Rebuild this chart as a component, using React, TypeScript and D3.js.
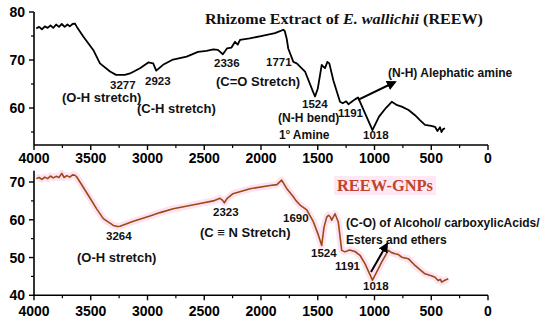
import React from "react";
import * as d3 from "d3";

// Top spectrum: Rhizome Extract of E. wallichii (REEW) — [wavenumber, %T]
const reewWave = [3980, 3955, 3930, 3905, 3880, 3855, 3830, 3805, 3780, 3755, 3730, 3705, 3685, 3660, 3640, 3625, 3566, 3478, 3419, 3330, 3277, 3200, 3154, 3066, 2993, 2950, 2923, 2863, 2775, 2655, 2555, 2480, 2420, 2380, 2336, 2300, 2260, 2229, 2205, 2185, 2100, 2000, 1877, 1833, 1804, 1790, 1774, 1760, 1715, 1685, 1612, 1542, 1524, 1500, 1465, 1450, 1436, 1415, 1398, 1363, 1304, 1280, 1250, 1230, 1201, 1172, 1145, 1018, 960, 900, 848, 800, 760, 700, 643, 600, 555, 500, 467, 445, 423, 410, 395, 379];
const reewT = [76.6, 76.9, 76.4, 77.0, 76.7, 77.2, 76.7, 77.4, 76.9, 77.5, 76.9, 77.4, 77.0, 77.5, 77.6, 77.0, 74.9, 72.1, 69.3, 67.6, 66.9, 66.9, 67.2, 68.3, 69.5, 69.3, 67.8, 69.0, 70.1, 70.7, 71.7, 71.9, 72.2, 72.1, 71.2, 72.4, 72.6, 73.8, 73.2, 74.2, 74.5, 75.0, 75.6, 76.0, 76.3, 76.0, 74.5, 72.4, 69.6, 69.3, 67.6, 63.4, 62.4, 64.0, 69.0, 68.6, 68.3, 69.6, 69.3, 65.8, 61.3, 61.0, 61.4, 60.8, 61.3, 61.8, 62.2, 55.4, 58.2, 60.0, 61.3, 60.6, 60.3, 59.6, 58.5, 57.5, 56.5, 56.3, 56.1, 55.2, 56.0, 55.0, 55.6, 55.8];

// Bottom spectrum: REEW-GNPs — [wavenumber, %T]
const gnpWave = [3980, 3955, 3930, 3905, 3880, 3855, 3830, 3805, 3780, 3755, 3735, 3710, 3685, 3660, 3640, 3625, 3595, 3522, 3448, 3389, 3301, 3264, 3242, 3125, 2978, 2890, 2773, 2537, 2420, 2361, 2340, 2323, 2300, 2247, 2097, 1921, 1860, 1818, 1774, 1715, 1690, 1656, 1597, 1539, 1495, 1465, 1445, 1421, 1405, 1390, 1377, 1348, 1319, 1289, 1260, 1220, 1172, 1128, 1084, 1018, 980, 937, 878, 850, 819, 790, 760, 702, 643, 600, 555, 500, 467, 440, 420, 408, 380, 350];
const gnpT = [70.9, 71.2, 70.7, 71.3, 70.9, 71.6, 71.1, 71.5, 71.2, 72.3, 71.2, 71.7, 71.3, 71.9, 71.8, 71.4, 70.0, 66.5, 62.9, 60.3, 58.5, 58.2, 58.3, 59.6, 61.0, 61.9, 62.9, 64.3, 65.0, 65.7, 65.2, 64.5, 65.6, 66.9, 68.2, 69.1, 69.3, 70.5, 68.3, 66.1, 65.0, 63.9, 62.6, 59.5, 56.0, 53.2, 58.0, 60.7, 61.2, 60.8, 59.9, 61.6, 59.4, 51.9, 51.5, 52.0, 51.6, 50.6, 48.4, 44.0, 46.2, 48.8, 51.9, 51.3, 51.0, 50.8, 50.1, 49.7, 47.9, 46.8, 45.7, 45.2, 44.8, 43.9, 44.2, 43.5, 44.0, 44.4];

const xMajor = [4000, 3500, 3000, 2500, 2000, 1500, 1000, 500, 0];
const xMinor = [3750, 3250, 2750, 2250, 1750, 1250, 750, 250];
const topMajor = [60, 70, 80];
const topMinor = [55, 65, 75];
const botMajor = [40, 50, 60, 70];
const botMinor = [45, 55, 65];

const topTitle = ["Rhizome Extract of ", "E. wallichii", " (REEW)"];
const botTitle = "REEW-GNPs";

const x = d3.scaleLinear().domain([4000, 0]).range([34, 488]);
const yTop = d3.scaleLinear().domain([52.3, 80]).range([145, 12]);
const yBot = d3.scaleLinear().domain([40, 73]).range([295.3, 170.7]);

const sans = "'Liberation Sans', Arial, sans-serif";
const serif = "'Liberation Serif', 'Times New Roman', serif";

function XAxis({ y, labelY }: { y: number; labelY: number }) {
  return (
    <g>
      <line x1={x(4000)} x2={x(0)} y1={y} y2={y} stroke="#000" strokeWidth={1.6} />
      {xMajor.map((v) => (
        <g key={"M" + v}>
          <line x1={x(v)} x2={x(v)} y1={y} y2={y + 5} stroke="#000" strokeWidth={1.4} />
          <text x={x(v)} y={labelY} textAnchor="middle" fontFamily={sans} fontWeight="bold" fontSize={14}>
            {v}
          </text>
        </g>
      ))}
      {xMinor.map((v) => (
        <line key={"m" + v} x1={x(v)} x2={x(v)} y1={y} y2={y + 3} stroke="#000" strokeWidth={1.2} />
      ))}
    </g>
  );
}

function YAxis({ scale, major, minor }: { scale: d3.ScaleLinear<number, number>; major: number[]; minor: number[] }) {
  const [d0, d1] = scale.domain();
  return (
    <g>
      <line x1={34} x2={34} y1={scale(d0)} y2={scale(d1)} stroke="#000" strokeWidth={1.6} />
      {major.map((v) => (
        <g key={"M" + v}>
          <line x1={29} x2={34} y1={scale(v)} y2={scale(v)} stroke="#000" strokeWidth={1.4} />
          <text x={25} y={scale(v) + 5} textAnchor="end" fontFamily={sans} fontWeight="bold" fontSize={14}>
            {v}
          </text>
        </g>
      ))}
      {minor.map((v) => (
        <line key={"m" + v} x1={31} x2={34} y1={scale(v)} y2={scale(v)} stroke="#000" strokeWidth={1.2} />
      ))}
    </g>
  );
}

function Label({ x: lx, y: ly, text, size = 12, anchor = "start" }: { x: number; y: number; text: string; size?: number; anchor?: string }) {
  return (
    <text x={lx} y={ly} fontFamily={sans} fontWeight="bold" fontSize={size} textAnchor={anchor as any} fill="#111">
      {text}
    </text>
  );
}

export default function App() {
  const topLine = d3
    .line<number>()
    .x((_, i) => x(reewWave[i]))
    .y((d) => yTop(d));
  const botLine = d3
    .line<number>()
    .x((_, i) => x(gnpWave[i]))
    .y((d) => yBot(d));
  return (
    <svg width={550} height={324} style={{ position: "absolute", left: 0, top: 0, background: "#fff" }}>
      <defs>
        <marker id="arr" viewBox="0 0 10 10" refX="8" refY="5" markerWidth="5" markerHeight="5" orient="auto">
          <path d="M0,0 L10,5 L0,10 z" fill="#000" />
        </marker>
      </defs>
      <rect width={550} height={324} fill="#fff" />

      {/* Top panel */}
      <YAxis scale={yTop} major={topMajor} minor={topMinor} />
      <XAxis y={145} labelY={163} />
      <path d={topLine(reewT) || ""} fill="none" stroke="#000" strokeWidth={1.8} strokeLinejoin="round" />
      <text x={205} y={24} fontFamily={serif} fontWeight="bold" fontSize={15} fill="#111" textLength={278} lengthAdjust="spacingAndGlyphs">
        {topTitle[0]}
        <tspan fontStyle="italic">{topTitle[1]}</tspan>
        {topTitle[2]}
      </text>
      <Label x={110} y={89} text="3277" size={11.5} />
      <Label x={145} y={85} text="2923" size={11.5} />
      <Label x={62} y={101.5} text="(O-H stretch)" size={13} />
      <Label x={137} y={113} text="(C-H stretch)" size={13} />
      <Label x={214} y={67} text="2336" size={11.5} />
      <Label x={266} y={66} text="1771" size={11.5} />
      <Label x={216} y={86} text="(C=O Stretch)" size={13} />
      <Label x={302} y={108} text="1524" size={11.5} />
      <Label x={278} y={122} text="(N-H bend)" size={12} />
      <Label x={338} y={117} text="1191" size={11.5} />
      <text x={279} y={139} fontFamily={sans} fontWeight="bold" fontSize={12} fill="#111">
        1<tspan fontSize={7} dy={-5}>o</tspan>
        <tspan dy={5}> Amine</tspan>
      </text>
      <Label x={363} y={139} text="1018" size={11.5} />
      <Label x={388} y={77} text="(N-H) Alephatic amine" size={12} />
      <line x1={x(1145)} y1={yTop(61.7)} x2={395} y2={82} stroke="#000" strokeWidth={2} markerEnd="url(#arr)" />

      {/* Bottom panel */}
      <YAxis scale={yBot} major={botMajor} minor={botMinor} />
      <XAxis y={295.3} labelY={316} />
      <path d={botLine(gnpT) || ""} fill="none" stroke="#fcdcee" strokeOpacity={0.8} strokeWidth={7} strokeLinejoin="round" />
      <path d={botLine(gnpT) || ""} fill="none" stroke="#9b4a16" strokeWidth={1.6} strokeLinejoin="round" />
      <rect x={334} y={176} width={102} height={19} fill="#fde8f3" />
      <text x={337} y={191} fontFamily={serif} fontWeight="bold" fontSize={16} fill="#c0432a" textLength={96} lengthAdjust="spacingAndGlyphs">
        {botTitle}
      </text>
      <Label x={106} y={240} text="3264" size={11.5} />
      <Label x={77} y={262} text="(O-H stretch)" size={13} />
      <Label x={213} y={216} text="2323" size={11.5} />
      <Label x={200} y={237} text="(C ≡ N Stretch)" size={13} />
      <Label x={283} y={222} text="1690" size={11.5} />
      <Label x={311} y={257} text="1524" size={11.5} />
      <Label x={335} y={270} text="1191" size={11.5} />
      <Label x={363} y={290} text="1018" size={11.5} />
      <Label x={346} y={227} text="(C-O) of Alcohol/ carboxylicAcids/" size={12} />
      <Label x={346} y={243.5} text="Esters and ethers" size={12} />
      <line x1={371} y1={272} x2={387} y2={244} stroke="#000" strokeWidth={2} markerEnd="url(#arr)" />
    </svg>
  );
}
